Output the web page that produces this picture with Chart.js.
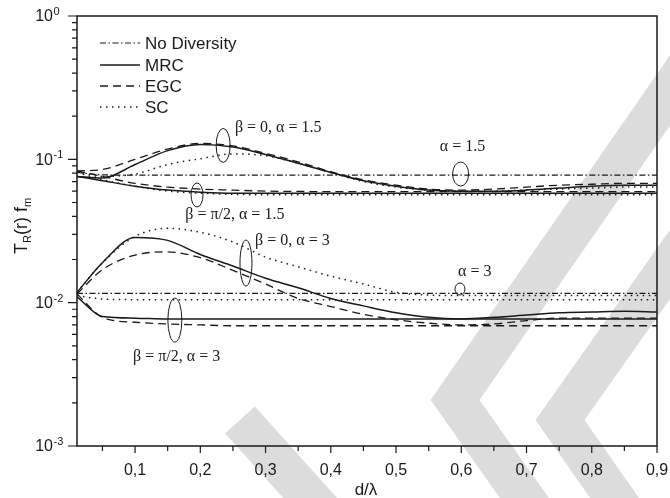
<!DOCTYPE html>
<html>
<head>
<meta charset="utf-8">
<script src="https://cdn.jsdelivr.net/npm/chart.js@4.4.1/dist/chart.umd.min.js"></script>
<style>
  html, body { margin: 0; padding: 0; background: #fff; }
  canvas { display: block; }
</style>
</head>
<body>
<canvas id="chart" width="670" height="498"></canvas>
<script>
// d/lambda sample points shared by every curve
const dValues = [0.011, 0.05, 0.1, 0.15, 0.2, 0.25, 0.3, 0.35, 0.4, 0.45, 0.5, 0.55, 0.6, 0.65, 0.7, 0.75, 0.8, 0.85, 0.9];

// alpha = 1.5
const noDivA15 = [0.081, 0.078, 0.0775, 0.0775, 0.0775, 0.0775, 0.0775, 0.0775, 0.0775, 0.0775, 0.0775, 0.0775, 0.0775, 0.0775, 0.0775, 0.0775, 0.0775, 0.0775, 0.0775];
const mrcB0A15 = [0.076, 0.074, 0.092, 0.115, 0.127, 0.122, 0.108, 0.094, 0.081, 0.071, 0.065, 0.061, 0.060, 0.060, 0.061, 0.063, 0.065, 0.066, 0.066];
const egcB0A15 = [0.083, 0.085, 0.100, 0.118, 0.129, 0.124, 0.110, 0.096, 0.082, 0.072, 0.066, 0.062, 0.061, 0.062, 0.064, 0.066, 0.067, 0.068, 0.068];
const scB0A15 = [0.082, 0.076, 0.079, 0.092, 0.101, 0.109, 0.106, 0.094, 0.081, 0.070, 0.064, 0.061, 0.060, 0.060, 0.061, 0.062, 0.063, 0.064, 0.064];
const mrcB90A15 = [0.076, 0.071, 0.065, 0.061, 0.059, 0.058, 0.058, 0.058, 0.058, 0.058, 0.058, 0.058, 0.058, 0.058, 0.058, 0.058, 0.058, 0.058, 0.058];
const egcB90A15 = [0.083, 0.076, 0.068, 0.064, 0.062, 0.061, 0.060, 0.0597, 0.0595, 0.0595, 0.0595, 0.0595, 0.0595, 0.0595, 0.0595, 0.0595, 0.0595, 0.0595, 0.0595];
const scB90A15 = [0.081, 0.072, 0.065, 0.060, 0.058, 0.057, 0.0565, 0.0565, 0.0565, 0.0565, 0.0565, 0.0565, 0.0565, 0.0565, 0.0565, 0.0565, 0.0565, 0.0565, 0.0565];

// alpha = 3
const noDivA3 = [0.0116, 0.0116, 0.0116, 0.0116, 0.0116, 0.0116, 0.0116, 0.0116, 0.0116, 0.0116, 0.0116, 0.0116, 0.0116, 0.0116, 0.0116, 0.0116, 0.0116, 0.0116, 0.0116];
const mrcB0A3 = [0.0118, 0.019, 0.0285, 0.0272, 0.0217, 0.018, 0.0148, 0.0127, 0.0107, 0.0095, 0.0085, 0.0079, 0.0077, 0.0079, 0.0082, 0.0085, 0.0086, 0.0087, 0.0086];
const egcB0A3 = [0.0115, 0.017, 0.0215, 0.0226, 0.0206, 0.0168, 0.0135, 0.0107, 0.0094, 0.0083, 0.0076, 0.0072, 0.0070, 0.0071, 0.0075, 0.0078, 0.0078, 0.0078, 0.0078];
const scB0A3 = [0.0118, 0.019, 0.029, 0.033, 0.031, 0.0265, 0.0208, 0.0178, 0.0153, 0.0135, 0.0118, 0.0113, 0.0112, 0.0112, 0.0112, 0.0112, 0.0112, 0.0112, 0.0112];
const mrcB90A3 = [0.011, 0.008, 0.0078, 0.0077, 0.0077, 0.0077, 0.0077, 0.0077, 0.0077, 0.0077, 0.0077, 0.0077, 0.0077, 0.0077, 0.0077, 0.0077, 0.0077, 0.0077, 0.0077];
const egcB90A3 = [0.0115, 0.0079, 0.0073, 0.0071, 0.0070, 0.0069, 0.0069, 0.0069, 0.0069, 0.0069, 0.0069, 0.0069, 0.0069, 0.0069, 0.0069, 0.0069, 0.0069, 0.0069, 0.0069];
const scB90A3 = [0.0112, 0.0106, 0.0105, 0.0105, 0.0105, 0.0105, 0.0105, 0.0105, 0.0105, 0.0105, 0.0105, 0.0105, 0.0105, 0.0105, 0.0105, 0.0105, 0.0105, 0.0105, 0.0105];

// axis ticks
const xTicks = [0.1, 0.2, 0.3, 0.4, 0.5, 0.6, 0.7, 0.8, 0.9];
const yTickExps = [-3, -2, -1, 0];

// legend entries and text annotations (positions in data units)
const legendItems = ["No Diversity", "MRC", "EGC", "SC"];
const noteTexts = ["\u03B2 = 0, \u03B1 = 1.5", "\u03B2 = \u03C0/2, \u03B1 = 1.5", "\u03B2 = 0, \u03B1 = 3", "\u03B2 = \u03C0/2, \u03B1 = 3", "\u03B1 = 1.5", "\u03B1 = 3"];
const noteX = [0.253, 0.177, 0.284, 0.097, 0.567, 0.595];
const noteY = [0.165, 0.0409, 0.0269, 0.00417, 0.122, 0.0164];
const ellipseX = [0.235, 0.195, 0.27, 0.161, 0.599, 0.598];
const ellipseY = [0.125, 0.0564, 0.0189, 0.00756, 0.079, 0.01245];

const INK = "#1a1a1a";
const STYLES = {
  nd: { dash: [6, 2.5, 1.5, 2.5], width: 1.2 },
  mrc: { dash: [], width: 1.5 },
  egc: { dash: [8, 5], width: 1.3 },
  sc: { dash: [1.5, 4.5], width: 1.5 },
};

function series(values, kind) {
  return {
    data: dValues.map((d, i) => ({ x: d, y: values[i] })),
    borderColor: INK,
    borderWidth: STYLES[kind].width,
    borderDash: STYLES[kind].dash,
    pointRadius: 0,
    fill: false,
    cubicInterpolationMode: "monotone",
  };
}

const SANS = "'Liberation Sans', Arial, sans-serif";
const SERIF = "'Liberation Serif', 'Times New Roman', serif";

// paper background plus the faint grey watermark
const backdrop = {
  id: "backdrop",
  beforeDraw(chart) {
    const ctx = chart.ctx;
    ctx.save();
    ctx.fillStyle = "#fff";
    ctx.fillRect(0, 0, chart.width, chart.height);
    ctx.strokeStyle = "#dcdcdc";
    ctx.lineWidth = 40;
    ctx.lineCap = "butt";
    ctx.lineJoin = "miter";
    ctx.beginPath();
    ctx.moveTo(705, 40);
    ctx.lineTo(455, 400);
    ctx.lineTo(540, 520);
    ctx.stroke();
    ctx.beginPath();
    ctx.moveTo(705, 215);
    ctx.lineTo(560, 420);
    ctx.lineTo(630, 520);
    ctx.stroke();
    ctx.beginPath();
    ctx.moveTo(240, 420);
    ctx.lineTo(330, 520);
    ctx.stroke();
    ctx.restore();
  },
};

// frame, ticks, labels, legend and annotations
const decorations = {
  id: "decorations",
  afterDraw(chart) {
    const ctx = chart.ctx;
    const area = chart.chartArea;
    const xs = chart.scales.x;
    const ys = chart.scales.y;
    ctx.save();
    ctx.strokeStyle = INK;
    ctx.fillStyle = INK;
    ctx.lineWidth = 1.5;
    ctx.strokeRect(area.left, area.top, area.right - area.left, area.bottom - area.top);

    // x ticks
    ctx.lineWidth = 1.2;
    ctx.beginPath();
    for (let k = 1; k <= 18; k++) {
      const v = k * 0.05;
      const px = xs.getPixelForValue(v);
      const len = k % 2 === 0 ? 7 : 5;
      ctx.moveTo(px, area.bottom);
      ctx.lineTo(px, area.bottom + len);
    }
    // y ticks (major + minor)
    for (const e of yTickExps) {
      const py = ys.getPixelForValue(Math.pow(10, e));
      ctx.moveTo(area.left, py);
      ctx.lineTo(area.left - 9, py);
      if (e < 0) {
        for (let m = 2; m <= 9; m++) {
          const pm = ys.getPixelForValue(m * Math.pow(10, e));
          ctx.moveTo(area.left, pm);
          ctx.lineTo(area.left - 5, pm);
        }
      }
    }
    ctx.stroke();

    // x tick labels
    ctx.font = "16px " + SANS;
    ctx.textAlign = "center";
    ctx.textBaseline = "alphabetic";
    for (const v of xTicks) {
      ctx.fillText(v.toFixed(1).replace(".", ","), xs.getPixelForValue(v), 475);
    }

    // y tick labels 10^n
    for (const e of yTickExps) {
      const py = ys.getPixelForValue(Math.pow(10, e));
      ctx.font = "16px " + SANS;
      ctx.textAlign = "right";
      ctx.textBaseline = "middle";
      ctx.fillText("10", 53, py + 1);
      ctx.font = "11px " + SANS;
      ctx.textAlign = "left";
      ctx.textBaseline = "alphabetic";
      ctx.fillText(String(e), 53.5, py - 1);
    }

    // x title
    ctx.font = "17px " + SANS;
    ctx.textAlign = "center";
    ctx.textBaseline = "alphabetic";
    ctx.fillText("d/\u03BB", 366, 495);

    // y title, rotated, with subscripts
    ctx.save();
    ctx.translate(27, 226);
    ctx.rotate(-Math.PI / 2);
    const parts = [["T", 18, 0], ["R", 11, 4], ["(r) f", 18, 0], ["m", 11, 4]];
    let total = 0;
    for (const [t, s] of parts) { ctx.font = s + "px " + SANS; total += ctx.measureText(t).width; }
    let cx = -total / 2;
    ctx.textAlign = "left";
    ctx.textBaseline = "alphabetic";
    for (const [t, s, dy] of parts) {
      ctx.font = s + "px " + SANS;
      ctx.fillText(t, cx, dy);
      cx += ctx.measureText(t).width;
    }
    ctx.restore();

    // legend
    const kinds = ["nd", "mrc", "egc", "sc"];
    const legendY = [43, 65, 86, 107];
    ctx.font = "17px " + SANS;
    ctx.textAlign = "left";
    ctx.textBaseline = "middle";
    kinds.forEach((k, i) => {
      ctx.save();
      ctx.lineWidth = STYLES[k].width;
      ctx.setLineDash(STYLES[k].dash);
      ctx.beginPath();
      ctx.moveTo(100, legendY[i]);
      ctx.lineTo(140, legendY[i]);
      ctx.stroke();
      ctx.restore();
      ctx.fillText(legendItems[i], 145, legendY[i] + 1);
    });

    // annotations
    ctx.font = "16px " + SERIF;
    ctx.textAlign = "left";
    ctx.textBaseline = "middle";
    noteTexts.forEach((t, i) => {
      ctx.fillText(t, xs.getPixelForValue(noteX[i]), ys.getPixelForValue(noteY[i]));
    });
    const radii = [[7, 17], [6, 12], [6, 23], [7, 22], [8, 12], [5, 6]];
    ctx.lineWidth = 1;
    radii.forEach(([rx, ry], i) => {
      ctx.beginPath();
      ctx.ellipse(xs.getPixelForValue(ellipseX[i]), ys.getPixelForValue(ellipseY[i]), rx, ry, 0, 0, Math.PI * 2);
      ctx.stroke();
    });
    ctx.restore();
  },
};

new Chart(document.getElementById("chart"), {
  type: "line",
  data: {
    datasets: [
      series(noDivA15, "nd"),
      series(noDivA3, "nd"),
      series(mrcB0A15, "mrc"),
      series(mrcB90A15, "mrc"),
      series(mrcB0A3, "mrc"),
      series(mrcB90A3, "mrc"),
      series(egcB0A15, "egc"),
      series(egcB90A15, "egc"),
      series(egcB0A3, "egc"),
      series(egcB90A3, "egc"),
      series(scB0A15, "sc"),
      series(scB90A15, "sc"),
      series(scB0A3, "sc"),
      series(scB90A3, "sc"),
    ],
  },
  options: {
    responsive: false,
    animation: false,
    layout: { padding: { left: 77, right: 13, top: 16, bottom: 52 } },
    plugins: { legend: { display: false }, tooltip: { enabled: false } },
    scales: {
      x: { type: "linear", min: 0.011, max: 0.9, display: false },
      y: { type: "logarithmic", min: 0.001, max: 1, display: false },
    },
  },
  plugins: [backdrop, decorations],
});
</script>
</body>
</html>
